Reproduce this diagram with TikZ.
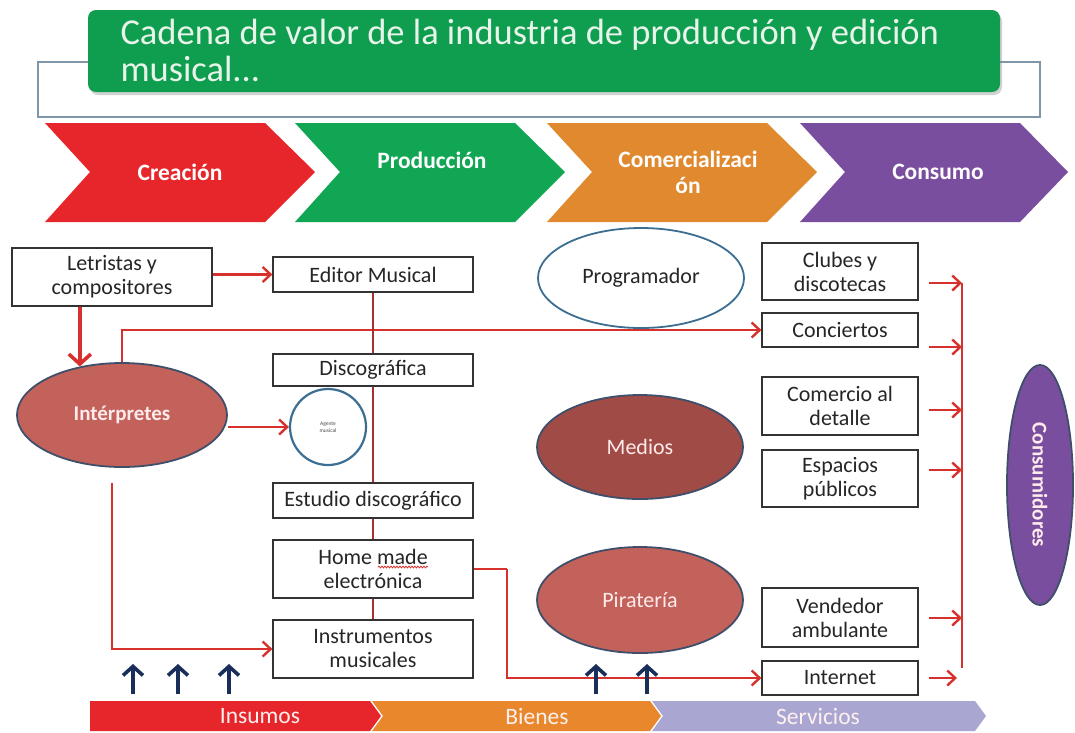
\documentclass[tikz,border=0pt]{standalone}
\usepackage{fontspec}
\setmainfont{Carlito}
\usetikzlibrary{arrows.meta,shapes.geometric,decorations.pathmorphing,shadows}
\definecolor{chred}{HTML}{E7262B}
\definecolor{chgreen}{HTML}{10A653}
\definecolor{chorange}{HTML}{E0892F}
\definecolor{chpurple}{HTML}{7A4E9F}
\definecolor{barorange}{HTML}{E8872C}
\definecolor{barlav}{HTML}{A9A6D1}
\definecolor{redline}{HTML}{D6312C}
\definecolor{chainred}{HTML}{A8302E}
\definecolor{navy}{HTML}{1A2E5A}
\definecolor{ovalborder}{HTML}{3F4F6A}
\definecolor{blueborder}{HTML}{3C6E91}
\definecolor{intfill}{HTML}{C2625B}
\definecolor{medfill}{HTML}{A04B45}
\definecolor{titletext}{HTML}{E8F4EA}
\definecolor{framegray}{HTML}{7F95A8}
\tikzset{
  box/.style={draw=black!80, line width=1.2pt, fill=white, align=center, inner sep=1pt,
    font=\fontsize{22}{24}\selectfont, text=black!85},
  oval/.style={ellipse, line width=1.8pt, draw=ovalborder, inner sep=0pt, align=center,
    font=\bfseries\fontsize{21}{24}\selectfont, text=white!92!red},
  chevlabel/.style={text=white, align=center, font=\bfseries\fontsize{23.5}{26}\selectfont},
  barlabel/.style={text=white!94!red, font=\fontsize{23.5}{24}\selectfont},
  ra/.style={draw=redline, line width=2.4pt, -{Straight Barb[length=8pt,width=15pt,line width=2.4pt]}},
  rathick/.style={draw=redline, line width=3.6pt, -{Straight Barb[length=10pt,width=22pt,line width=3.6pt]}},
  chainline/.style={draw=chainred, line width=2.6pt},
  plainred/.style={draw=redline, line width=2.4pt},
  upar/.style={draw=navy, line width=3.6pt, -{Straight Barb[length=9pt,width=20pt,line width=3.6pt]}}
}
\begin{document}
\begin{tikzpicture}[x=1pt,y=-1pt]
\useasboundingbox[fill=white] (0,0) rectangle (1075,732);

% title
\draw[framegray, line width=1.4pt] (38,62) rectangle (1040,117);
\fill[chgreen!95!black, rounded corners=8pt, drop shadow={shadow xshift=2pt,shadow yshift=-3pt,opacity=0.35}] (88,10) rectangle (1000,92);
\node[anchor=west, align=left, text=titletext, font=\fontsize{36.5}{37}\selectfont] (title) at (117,50)
  {Cadena de valor de la industria de producción y edición\\musical...};

% chevrons
\fill[chred] (45,123) -- (265,123) -- (315,172) -- (265,222) -- (45,222) -- (90,172) -- cycle;
\fill[chgreen] (295,123) -- (515,123) -- (565,172) -- (515,222) -- (295,222) -- (340,172) -- cycle;
\fill[chorange] (547,123) -- (767,123) -- (817,172) -- (767,222) -- (547,222) -- (592,172) -- cycle;
\fill[chpurple] (800,123) -- (1020,123) -- (1068,172) -- (1020,222) -- (800,222) -- (845,172) -- cycle;
\node[chevlabel] (c1) at (180,172) {Creación};
\node[chevlabel] (c2) at (432,160) {Producción};
\node[chevlabel] (c3) at (688,172) {Comercializaci\\ón};
\node[chevlabel] (c4) at (938,172) {Consumo};

% left boxes
\node[box, minimum width=200pt, minimum height=58pt] (L) at (112,277) {Letristas y\\compositores};
\node[box, minimum width=200pt, minimum height=35pt] (EM) at (373,274.5) {Editor Musical};
\node[box, minimum width=200pt, minimum height=32pt] (D) at (373,370) {Discográfica};
\node[box, minimum width=200pt, minimum height=35pt] (ED) at (373,500.5) {Estudio discográfico};
\node[box, minimum width=200pt, minimum height=58pt] (HM) at (373,569) {Home made\\electrónica};
\node[box, minimum width=200pt, minimum height=58pt] (IM) at (373,649) {Instrumentos\\musicales};
\draw[redline, line width=0.8pt, decorate, decoration={snake, amplitude=0.9pt, segment length=3pt}] (378,567) -- (428,567);

\node[circle, draw=blueborder, line width=2.2pt, fill=white, minimum size=76pt, inner sep=0pt, align=center,
  font=\fontsize{5.5}{6.5}\selectfont, text=black!70] (AG) at (328,427) {Agente\\musical};

% ellipses
\node[oval, fill=intfill, minimum width=210pt, minimum height=104pt] (INT) at (122,415) {Intérpretes};
\node[oval, fill=white, draw=blueborder, text=black!85, font=\fontsize{22}{24}\selectfont,
  minimum width=206pt, minimum height=100pt] (PR) at (641,278) {Programador};
\node[oval, fill=medfill, font=\fontsize{22}{24}\selectfont, minimum width=206pt, minimum height=104pt] (ME) at (640,447) {Medios};
\node[oval, fill=intfill, font=\fontsize{22}{24}\selectfont, minimum width=206pt, minimum height=106pt] (PI) at (640,600) {Piratería};
\node[oval, fill=chpurple, minimum width=66pt, minimum height=240pt] (CS) at (1040,485) {\rotatebox{-90}{Consumidores}};

% right boxes
\node[box, minimum width=156pt, minimum height=57pt] (CL) at (840,271.5) {Clubes y\\discotecas};
\node[box, minimum width=156pt, minimum height=34pt] (CO) at (840,330) {Conciertos};
\node[box, minimum width=156pt, minimum height=58pt] (CD) at (840,406) {Comercio al\\detalle};
\node[box, minimum width=156pt, minimum height=57pt] (EP) at (840,478.5) {Espacios\\públicos};
\node[box, minimum width=156pt, minimum height=59pt] (VA) at (840,617.5) {Vendedor\\ambulante};
\node[box, minimum width=156pt, minimum height=34pt] (IN) at (840,678) {Internet};

% connectors left
\draw[ra] (L.east |- EM.west) -- (EM.west);
\draw[rathick] (INT.131 |- L.south) -- (INT.131);
\draw[ra] (INT.north) |- (CO.west);
\draw[ra] (AG.west -| INT.east) -- (AG.west);
\draw[chainline] (EM.south) -- (D.north);
\draw[chainline] (D.south) -- (ED.north);
\draw[chainline] (ED.south) -- (HM.north);
\draw[chainline] (HM.south) -- (IM.north);
\coordinate (f1) at (112,483);
\draw[ra] (f1) |- (IM.west);
\coordinate (h1) at (507,569);
\draw[plainred] (HM.east) -- (h1);
\draw[ra] (h1) |- (IN.west);

% bus to consumers
\coordinate (b1) at (962,283);
\coordinate (b2) at (962,347);
\coordinate (b3) at (962,410);
\coordinate (b4) at (962,470);
\coordinate (b5) at (962,618);
\coordinate (b6) at (962,678);
\coordinate (bend) at (962,668);
\draw[plainred] (b1) -- (bend);
\draw[ra] ([xshift=10pt]CL.east |- b1) -- (b1);
\draw[ra] ([xshift=10pt]CO.east |- b2) -- (b2);
\draw[ra] ([xshift=10pt]CD.east |- b3) -- (b3);
\draw[ra] ([xshift=10pt]EP.east |- b4) -- (b4);
\draw[ra] ([xshift=10pt]VA.east |- b5) -- (b5);
\draw[ra] ([xshift=10pt]IN.east |- b6) -- ([xshift=-5pt]b6);

% bottom bar
\fill[chred] (90,701) -- (370,701) -- (381,716) -- (370,731) -- (90,731) -- cycle;
\fill[barorange] (372,701) -- (650,701) -- (661,716) -- (650,731) -- (372,731) -- (383,716) -- cycle;
\fill[barlav] (652,701) -- (975,701) -- (986,716) -- (975,731) -- (652,731) -- (663,716) -- cycle;
\node[barlabel] (bl1) at (260,716) {Insumos};
\node[barlabel] (bl2) at (537,716) {Bienes};
\node[barlabel] (bl3) at (818,716) {Servicios};

% up arrows
\foreach \i/\x in {1/133,2/178,3/229,4/596,5/647} {
  \coordinate (ua\i) at (\x,694);
  \coordinate (ub\i) at (\x,664);
  \draw[upar] (ua\i) -- (ub\i);
}
\end{tikzpicture}
\end{document}
